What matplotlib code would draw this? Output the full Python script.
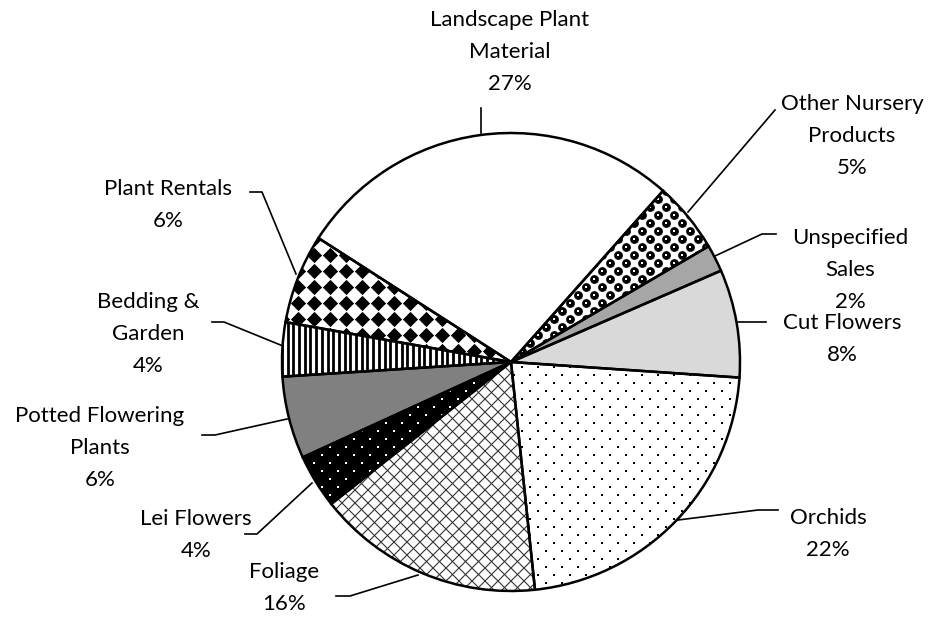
import matplotlib
matplotlib.use("Agg")
import matplotlib.pyplot as plt
import numpy as np
from matplotlib.patches import Wedge
from matplotlib.collections import LineCollection

# данные (по часовой стрелке, начиная с Other Nursery Products)
labels = ["Other Nursery\nProducts", "Unspecified\nSales", "Cut Flowers",
          "Orchids", "Foliage", "Lei Flowers", "Potted Flowering\nPlants",
          "Bedding &\nGarden", "Plant Rentals", "Landscape Plant\nMaterial"]
shares = [5.0, 1.9, 7.6, 22.2, 16.0, 3.8, 5.8, 3.8, 6.3, 27.4]
shown_pct = [5, 2, 8, 22, 16, 4, 6, 4, 6, 27]

# раскладка (пиксели, y сверху вниз)
W, H = 933, 639
CX, CY, R = 511, 362, 229
text_pos = [(852, 136), (850, 270), (842, 339), (828, 534), (284, 588),
            (196, 535), (100, 448), (148, 334), (168, 205), (510, 52)]
leaders = [
    [(688, 212), (775, 110)],
    [(715, 256), (762, 234), (776, 234)],
    [(738, 322), (766, 322)],
    [(678, 520), (758, 510), (778, 510)],
    [(418, 575), (350, 596), (336, 596)],
    [(312, 483), (257, 534), (245, 534)],
    [(287, 419), (215, 435), (202, 435)],
    [(283, 346), (224, 322), (212, 322)],
    [(296, 274), (262, 192), (250, 192)],
    [(481, 133), (481, 108)],
]
fills = ["white", "#a6a6a6", "#d9d9d9", "white", "white", "black",
         "#808080", "white", "white", "white"]

plt.rcParams["font.family"] = ["Lato", "DejaVu Sans"]

fig = plt.figure(figsize=(W / 100, H / 100), dpi=100)
ax = fig.add_axes([0, 0, 1, 1])

wedges, _ = ax.pie(shares, startangle=48.4, counterclock=False,
                   center=(CX, H - CY), radius=R, colors=fills,
                   wedgeprops=dict(linewidth=0))
ax.set_xlim(0, W)
ax.set_ylim(0, H)
ax.axis("off")


def lattice(step, checker=True):
    xs = np.arange(CX - R - step, CX + R + step, step)
    ys = np.arange(H - CY - R - step, H - CY + R + step, step)
    gx, gy = np.meshgrid(xs, ys)
    i, j = np.meshgrid(np.arange(len(xs)), np.arange(len(ys)))
    if checker:
        m = (i + j) % 2 == 0
        return gx[m], gy[m]
    return gx.ravel(), gy.ravel()


def dots(w, step, size, color, marker="s", checker=True):
    x, y = lattice(step, checker)
    sc = ax.scatter(x, y, s=size, c=color, marker=marker, linewidths=0, zorder=3)
    sc.set_clip_path(w)


def lines(w, segs, lw, color):
    lc = LineCollection(segs, linewidths=lw, colors=color, zorder=3)
    ax.add_collection(lc)
    lc.set_clip_path(w)


# узоры заливки
dots(wedges[0], 8, 40, "black", marker="o")
dots(wedges[0], 8, 3, "white")
dots(wedges[3], 8, 2.2, "black")
dots(wedges[5], 8, 2.2, "white")
dots(wedges[8], 16, 60, "black", marker="D", checker=False)

P = 13
cy0 = H - CY
diag = []
for c in np.arange(-3 * R, 3 * R, P):
    diag.append([(CX - R - 50, cy0 - R - 50 + c), (CX + R + 50, cy0 + R + 50 + c)])
    diag.append([(CX - R - 50, cy0 + R + 50 + c), (CX + R + 50, cy0 - R - 50 + c)])
lines(wedges[4], diag, 0.8, "#333333")

vert = [[(x, cy0 - R), (x, cy0 + R)] for x in np.arange(CX - R, CX, 5.7)]
lines(wedges[7], vert, 2.0, "black")

# контуры секторов
for w in wedges:
    ax.add_patch(Wedge(w.center, w.r, w.theta1, w.theta2, fill=False,
                       edgecolor="black", linewidth=1.8, zorder=5))

# выноски и подписи
for pts in leaders:
    xs = [p[0] for p in pts]
    ys = [H - p[1] for p in pts]
    ax.plot(xs, ys, color="black", linewidth=1.2, zorder=4)

for lab, pct, (tx, ty) in zip(labels, shown_pct, text_pos):
    ax.text(tx, H - ty, f"{lab}\n{pct}%", ha="center", va="center",
            fontsize=16, linespacing=1.72, color="black")

fig.savefig("out.png", dpi=100)
